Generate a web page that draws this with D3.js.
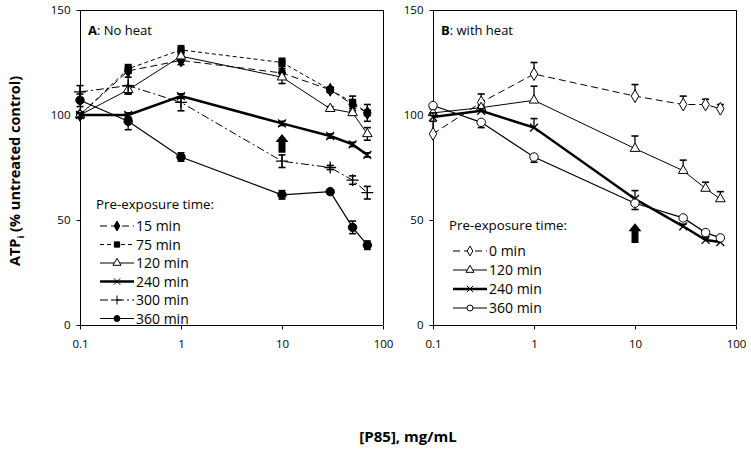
<!DOCTYPE html>
<html><head><meta charset="utf-8">
<script src="https://cdn.jsdelivr.net/npm/d3@7"></script>
<style>
body{margin:0;background:#fff;}
text{font-family:"Open Sans",sans-serif;fill:#000;}
</style></head>
<body><svg id="c" width="751" height="450"></svg>
<script>
// ---------- data ----------
const concentrations = [0.1, 0.3, 1, 10, 30, 50, 70];
const xTicks = [0.1, 1, 10, 100];
const yTicks = [0, 50, 100, 150];

// Panel A: No heat
const labelsA = ["15 min", "75 min", "120 min", "240 min", "300 min", "360 min"];
const a15  = [100, 121, 126, 120, 112, 105, 101];
const a75  = [100, 122, 131, 125, 112, 106, 101];
const a120 = [100, 112, 128, 118, 103, 101, 91];
const a240 = [100, 100, 109, 96, 90, 86, 81];
const a300 = [111, 114, 106, 78, 75, 69, 63];
const a360 = [107, 97, 80, 62, 63.5, 46.5, 38];
const e15  = [1, 1, 2, 2, 1, 1, 1];
const e75  = [1, 2, 2, 2, 1, 3, 4];
const e120 = [1, 2, 2, 3, 1, 1, 3];
const e240 = [1, 1, 1, 1, 1, 1, 1];
const e300 = [3, 4, 4, 3, 1, 2, 3];
const e360 = [3, 4, 2, 2, 1, 3, 2];

// Panel B: with heat
const labelsB = ["0 min", "120 min", "240 min", "360 min"];
const b0   = [91, 106, 119.5, 109, 105, 105, 103];
const b120 = [101, 103.5, 107, 84, 73.5, 65, 60];
const b240 = [99, 102, 94, 60, 47, 40.5, 39.5];
const b360 = [104.5, 96.5, 80, 58, 51, 44, 41.5];
const eb0   = [6, 4, 5.5, 5.5, 4, 2.5, 2];
const eb120 = [2, 1, 6.7, 6, 5, 3, 3.5];
const eb240 = [2, 1, 4.3, 4, 1, 1, 1];
const eb360 = [1, 2.5, 2.5, 3, 1, 1, 1];

// arrows (concentration, from value, to value)
const arrowA = [10, 82, 91];
const arrowB = [10, 39, 48.5];

// ---------- drawing ----------
const svg = d3.select("#c");
const y = d3.scaleLinear().domain([0, 150]).range([325, 10]);

const symType = {
  diamond: d3.symbolDiamond, square: d3.symbolSquare, triangle: d3.symbolTriangle,
  times: d3.symbolTimes, plus: d3.symbolPlus, circle: d3.symbolCircle
};
const symSize = {diamond: 48, square: 40, triangle: 40, times: 42, plus: 48, circle: 56};

function panel(x0, x1, series, title, legendTitleY, legendY0, legendStep, legX, arrow) {
  const x = d3.scaleLog().domain([0.1, 100]).range([x0, x1]);
  const g = svg.append("g");
  // frame
  g.append("line").attr("x1", x0).attr("x2", x1).attr("y1", 10.5).attr("y2", 10.5).attr("stroke", "#000");
  g.append("line").attr("x1", x1 + 0.5).attr("x2", x1 + 0.5).attr("y1", 10).attr("y2", 325).attr("stroke", "#000");
  const xa = g.append("g").attr("transform", "translate(0,325.5)")
    .call(d3.axisBottom(x).tickValues(xTicks).tickSize(4).tickPadding(10).tickFormat(d => d < 1 ? "0.1" : String(d)));
  xa.select(".domain").attr("d", `M${x0},0H${x1}`);
  const ya = g.append("g").attr("transform", `translate(${x0 + 0.5},0)`)
    .call(d3.axisLeft(y).tickValues(yTicks).tickSize(4).tickPadding(6));
  ya.select(".domain").attr("d", "M0,10V325");
  g.selectAll(".tick text").style("font-family", "Open Sans").style("font-size", "11.5px");

  // series
  series.forEach(s => {
    const line = d3.line().x((d, i) => x(concentrations[i])).y(d => y(d));
    g.append("path").attr("d", line(s.v)).attr("fill", "none").attr("stroke", "#000")
      .attr("stroke-width", s.w).attr("stroke-dasharray", s.dash);
    // error bars
    s.v.forEach((v, i) => {
      const cx = x(concentrations[i]);
      const e = s.e[i];
      const top = s.dir === "down" ? v : v + e;
      const bot = s.dir === "up" ? v : v - e;
      g.append("line").attr("x1", cx).attr("x2", cx).attr("y1", y(top)).attr("y2", y(bot)).attr("stroke", "#000").attr("stroke-width", 1.3);
      if (s.dir !== "down") g.append("line").attr("x1", cx - 3.5).attr("x2", cx + 3.5).attr("y1", y(top)).attr("y2", y(top)).attr("stroke", "#000").attr("stroke-width", 1.6);
      if (s.dir !== "up") g.append("line").attr("x1", cx - 3.5).attr("x2", cx + 3.5).attr("y1", y(bot)).attr("y2", y(bot)).attr("stroke", "#000").attr("stroke-width", 1.6);
    });
    g.selectAll(null).data(s.v).enter().append("path")
      .attr("d", d3.symbol().type(symType[s.m]).size(symSize[s.m])())
      .attr("transform", (d, i) => `translate(${x(concentrations[i])},${y(d)})`)
      .attr("fill", s.fill ? "#000" : "#fff").attr("stroke", "#000").attr("stroke-width", s.m === "times" || s.m === "plus" ? 1.3 : 1);
  });

  // arrow
  const ax = x(arrow[0]), yb = y(arrow[1]), yt = y(arrow[2]);
  const hh = 8;
  g.append("path").attr("d",
    `M${ax},${yt} L${ax + 6.5},${yt + hh} L${ax + 3.5},${yt + hh} L${ax + 3.5},${yb} L${ax - 3.5},${yb} L${ax - 3.5},${yt + hh} L${ax - 6.5},${yt + hh} Z`)
    .attr("fill", "#000");

  // panel label
  const t = g.append("text").attr("x", x0 + 8).attr("y", 35).style("font-size", "13px");
  t.append("tspan").style("font-weight", "bold").text(title[0]);
  t.append("tspan").text(title[1]);

  // legend
  g.append("text").attr("x", legX - 4).attr("y", legendTitleY).style("font-size", "13.3px").text("Pre-exposure time:");
  series.forEach((s, i) => {
    const ly = legendY0 + i * legendStep;
    g.append("line").attr("x1", legX).attr("x2", legX + 34).attr("y1", ly).attr("y2", ly)
      .attr("stroke", "#000").attr("stroke-width", s.w).attr("stroke-dasharray", s.dash);
    g.append("path").attr("d", d3.symbol().type(symType[s.m]).size(28)())
      .attr("transform", `translate(${legX + 17},${ly})`)
      .attr("fill", s.fill ? "#000" : "#fff").attr("stroke", "#000");
    g.append("text").attr("x", legX + 36).attr("y", ly + 5).style("font-size", "14px").text(s.label);
  });
}

const seriesA = [
  {label: labelsA[0], v: a15, e: e15, m: "diamond", fill: true, w: 1, dash: "7,4", dir: "both"},
  {label: labelsA[1], v: a75, e: e75, m: "square", fill: true, w: 1, dash: "4,3", dir: "both"},
  {label: labelsA[2], v: a120, e: e120, m: "triangle", fill: false, w: 1, dash: null, dir: "both"},
  {label: labelsA[3], v: a240, e: e240, m: "times", fill: false, w: 2.5, dash: null, dir: "both"},
  {label: labelsA[4], v: a300, e: e300, m: "plus", fill: false, w: 1, dash: "8,3,2,3", dir: "both"},
  {label: labelsA[5], v: a360, e: e360, m: "circle", fill: true, w: 1.2, dash: null, dir: "both"}
];
const seriesB = [
  {label: labelsB[0], v: b0, e: eb0, m: "diamond", fill: false, w: 1, dash: "7,4", dir: "up"},
  {label: labelsB[1], v: b120, e: eb120, m: "triangle", fill: false, w: 1, dash: null, dir: "up"},
  {label: labelsB[2], v: b240, e: eb240, m: "times", fill: false, w: 2.5, dash: null, dir: "up"},
  {label: labelsB[3], v: b360, e: eb360, m: "circle", fill: false, w: 1.2, dash: null, dir: "down"}
];

panel(80, 383, seriesA, ["A", ": No heat"], 209, 226, 18.5, 100, arrowA);
panel(433, 736, seriesB, ["B", ": with heat"], 230, 251, 19, 453, arrowB);

// axis titles
const yt = svg.append("text").attr("transform", "translate(20,171) rotate(-90)")
  .attr("text-anchor", "middle").style("font-size", "14.5px").style("font-weight", "bold");
yt.append("tspan").text("ATP");
yt.append("tspan").attr("dy", 4).style("font-size", "9.5px").text("i");
yt.append("tspan").attr("dy", -4).text(" (% untreated control)");
svg.append("text").attr("x", 408).attr("y", 442).attr("text-anchor", "middle")
  .style("font-size", "15px").style("font-weight", "bold").text("[P85], mg/mL");
</script></body></html>
